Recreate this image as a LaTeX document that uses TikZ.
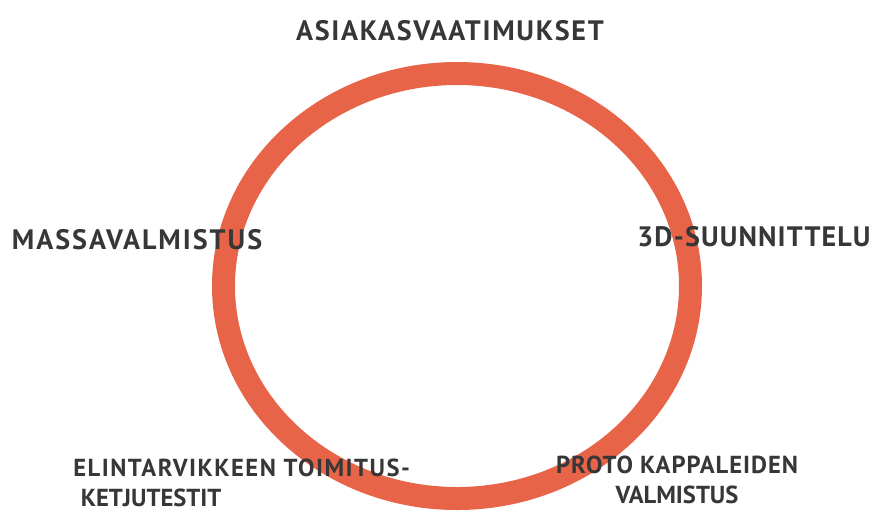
\documentclass[tikz,border=0pt]{standalone}
\usepackage{fontspec}
\setmainfont{PT Sans}
\usetikzlibrary{positioning}
\definecolor{ringred}{RGB}{232,100,72}
\definecolor{pencil}{RGB}{55,55,55}

\begin{document}
\begin{tikzpicture}[x=0.02cm, y=-0.02cm,
	hand/.style={text=pencil, font=\bfseries\fontsize{16}{17}\selectfont, inner sep=0pt, align=center},
	smallhand/.style={hand, font=\bfseries\fontsize{14}{17}\selectfont}]
	%%%%% START %%%%%
	
	\useasboundingbox (0, 0) rectangle (874, 514);
	
	\draw[ringred, line width=0.46cm] (457, 286) ellipse [x radius=233.5, y radius=212.5];
	
	\node[hand] (needs) at (450, 31) {\addfontfeatures{LetterSpace=6}ASIAKASVAATIMUKSET};
	\node[hand] (mass) at (137, 240) {\addfontfeatures{LetterSpace=7}MASSAVALMISTUS};
	\node[hand] (design) at (754, 237) {\addfontfeatures{LetterSpace=4}3D-SUUNNITTELU};
	
	\node[smallhand, align=left, anchor=north west] (chain) at (73, 459) {\addfontfeatures{LetterSpace=6}ELINTARVIKKEEN TOIMITUS-\\\hspace{0.15cm}KETJUTESTIT};
	\node[smallhand] (proto) at (677, 480) {\addfontfeatures{LetterSpace=4}PROTO KAPPALEIDEN\\VALMISTUS};
	
	%%%%% END %%%%%
\end{tikzpicture}
\end{document}
